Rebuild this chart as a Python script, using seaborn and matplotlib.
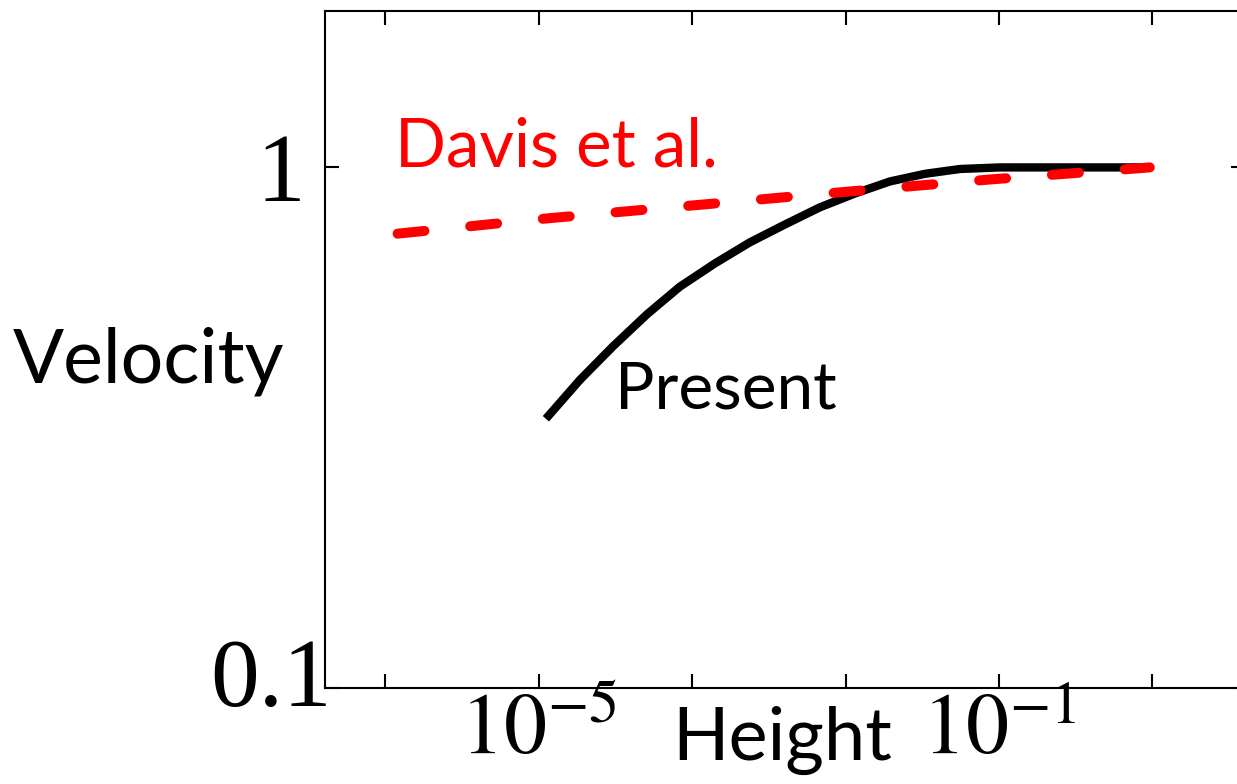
import matplotlib
matplotlib.use("Agg")
import matplotlib.pyplot as plt
import seaborn as sns
import pandas as pd
from matplotlib.transforms import ScaledTranslation
from matplotlib.ticker import FixedLocator, FixedFormatter, NullLocator

# ---- data ----
present_height = [1.15e-5, 2.28e-5, 4.40e-5, 8.69e-5, 1.68e-4, 3.39e-4, 6.84e-4, 1.38e-3,
                  2.77e-3, 5.60e-3, 1.13e-2, 2.27e-2, 4.58e-2, 0.102, 0.277, 2.06]
present_velocity = [0.329, 0.391, 0.453, 0.522, 0.590, 0.654, 0.718, 0.777,
                    0.838, 0.891, 0.940, 0.972, 0.993, 1.0, 1.0, 1.0]

davis_height = [5.9e-7, 1.17e-5, 2.28e-4, 4.23e-3, 8.36e-2, 2.05]
davis_velocity = [0.746, 0.798, 0.846, 0.896, 0.948, 1.0]

x_ticks = [4.6e-7, 1e-5, 2.15e-4, 4.64e-3, 0.1, 2.15]
x_tick_labels = ["", r"$10^{-5}$", "", "", r"$10^{-1}$", ""]
y_ticks = [0.1, 1]
y_tick_labels = ["0.1", "1"]

present_df = pd.DataFrame({"Height": present_height, "Velocity": present_velocity})
davis_df = pd.DataFrame({"Height": davis_height, "Velocity": davis_velocity})

# ---- style ----
sns.set_style("ticks")
plt.rcParams["font.family"] = ["Lato", "DejaVu Sans"]
plt.rcParams["mathtext.fontset"] = "stix"
for key in ["text.color", "axes.labelcolor", "xtick.color", "ytick.color",
            "xtick.labelcolor", "ytick.labelcolor", "axes.edgecolor"]:
    plt.rcParams[key] = "black"

W, H = 1237, 784
fig = plt.figure(figsize=(W / 100, H / 100), dpi=100)
left, right, top, bottom = 325, 1245, 10.7, 688
ax = fig.add_axes([left / W, 1 - bottom / H, (right - left) / W, (bottom - top) / H])

ax.set_xscale("log")
ax.set_yscale("log")

sns.lineplot(data=present_df, x="Height", y="Velocity", color="black",
             linewidth=6.0, solid_capstyle="butt", solid_joinstyle="round", ax=ax)
sns.lineplot(data=davis_df, x="Height", y="Velocity", color="#ff0000",
             linewidth=7.2, linestyle=(0, (2.7, 4.6)), dash_capstyle="round", ax=ax)

ax.set_xlim(1.38e-7, 13.8)
ax.set_ylim(0.1, 2.0)

ax.xaxis.set_major_locator(FixedLocator(x_ticks))
ax.xaxis.set_major_formatter(FixedFormatter(x_tick_labels))
ax.xaxis.set_minor_locator(NullLocator())
ax.yaxis.set_major_locator(FixedLocator(y_ticks))
ax.yaxis.set_major_formatter(FixedFormatter(y_tick_labels))
ax.yaxis.set_minor_locator(NullLocator())

for s in ax.spines.values():
    s.set_linewidth(1.5)
    s.set_color("black")

ax.tick_params(axis="both", which="major", direction="in", length=10, width=1.5,
               color="black", labelcolor="black", top=True, right=True)
ax.tick_params(axis="x", pad=4, labelsize=62)
ax.tick_params(axis="y", pad=14, labelsize=70)
for lab in ax.get_yticklabels() + ax.get_xticklabels():
    lab.set_fontfamily("Liberation Serif")

# shift the "0.1" label like in the reference
for lab in ax.get_yticklabels():
    if lab.get_text() == "0.1":
        lab.set_transform(lab.get_transform() + ScaledTranslation(19 / 72, 11 / 72, fig.dpi_scale_trans))

ax.set_xlabel("Height", fontsize=50, ha="left", va="baseline", color="black")
ax.xaxis.set_label_coords((672 - left) / (right - left), (bottom - 760) / (bottom - top))
ax.set_ylabel("Velocity", fontsize=59, rotation=0, ha="left", va="baseline", color="black")
ax.yaxis.set_label_coords((13 - left) / (right - left), (bottom - 383) / (bottom - top))

t_present = ax.text((615 - left) / (right - left), (bottom - 409) / (bottom - top), "Present",
                    transform=ax.transAxes, fontsize=51, color="black", ha="left", va="baseline")
t_davis = ax.text((395 - left) / (right - left), (bottom - 167) / (bottom - top), "Davis et al.",
                  transform=ax.transAxes, fontsize=51, color="#ff0000", ha="left", va="baseline")

# fit text widths to the reference
fig.canvas.draw()
r = fig.canvas.get_renderer()
for txt, tw in [(ax.xaxis.label, 220), (ax.yaxis.label, 272), (t_present, 222), (t_davis, 323)]:
    w = txt.get_window_extent(r).width
    txt.set_fontsize(txt.get_fontsize() * tw / w)

fig.savefig("out.png", dpi=100)
